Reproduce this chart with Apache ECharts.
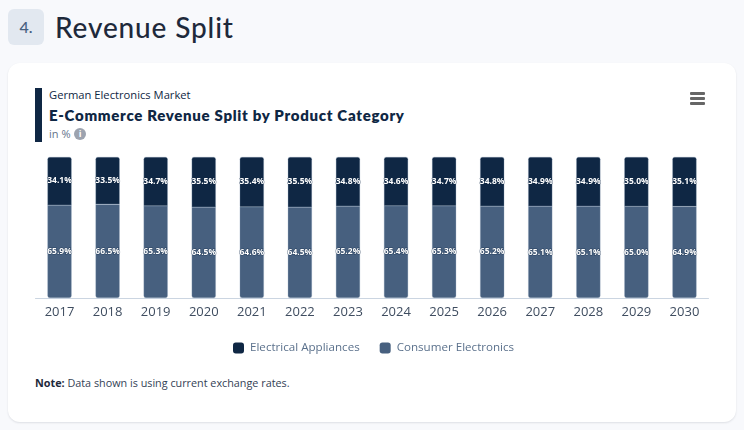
<!DOCTYPE html>
<html><head><meta charset="utf-8">
<style>
html,body{margin:0;padding:0;width:744px;height:430px;overflow:hidden;background:#f8f9fc;font-family:"Open Sans",sans-serif}
.abs{position:absolute;white-space:nowrap}
#badge{left:8px;top:9px;width:36px;height:36px;border-radius:6px;background:#e2e8f0;color:#47607f;font:500 16px/36px Lato,sans-serif;text-align:center}
#h{left:55px;top:8px;font:500 28px/38px Lato,sans-serif;color:#1e293b;letter-spacing:.85px}
#card{left:8px;top:63px;width:728px;height:359px;background:#fff;border-radius:12px;box-shadow:0 1px 2px rgba(30,41,59,.12)}
#bar{left:35px;top:88px;width:7px;height:54px;background:#0f2744}
#sup{left:49px;top:87px;font:500 11.2px/16px "Open Sans",sans-serif;color:#0f2744}
#ttl{left:49px;top:105px;font:800 15px/20px Lato,sans-serif;color:#0f2744;letter-spacing:.7px}
#unit{left:49px;top:126px;font:400 11px/16px "Open Sans",sans-serif;color:#64748b}
#info{left:74px;top:128px;width:12px;height:12px;border-radius:50%;background:#9ca3af;color:#fff;font:700 9px/12px "Open Sans",sans-serif;text-align:center}
#menu{left:690px;top:92px;width:15px;height:13px}
#menu i{display:block;height:3px;margin-bottom:2px;background:#666;border-radius:1px}
#note{left:35px;top:375px;font:400 10.8px/16px "Open Sans",sans-serif;color:#334155}
#note b{font-weight:700;color:#1e293b}
#chart{position:absolute;left:0;top:0;width:744px;height:430px}
</style></head><body>
<div class="abs" id="badge">4.</div>
<div class="abs" id="h">Revenue Split</div>
<div class="abs" id="card"></div>
<div class="abs" id="bar"></div>
<div class="abs" id="sup">German Electronics Market</div>
<div class="abs" id="ttl">E-Commerce Revenue Split by Product Category</div>
<div class="abs" id="unit">in %</div>
<div class="abs" id="info">i</div>
<div class="abs" id="menu"><i></i><i></i><i></i></div>
<div class="abs" id="note"><b>Note:</b> Data shown is using current exchange rates.</div>
<div id="chart"></div>
<script src="https://cdn.jsdelivr.net/npm/echarts@6/dist/echarts.min.js"></script>
<script>
const years = ['2017','2018','2019','2020','2021','2022','2023','2024','2025','2026','2027','2028','2029','2030'];
const electricalAppliances = [34.1,33.5,34.7,35.5,35.4,35.5,34.8,34.6,34.7,34.8,34.9,34.9,35.0,35.1];
const consumerElectronics = [65.9,66.5,65.3,64.5,64.6,64.5,65.2,65.4,65.3,65.2,65.1,65.1,65.0,64.9];
const labelStyle = {
  show:true, position:'inside', color:'#fff', fontFamily:'"Open Sans",sans-serif',
  fontSize:8.5, fontWeight:700, textBorderColor:'rgba(15,39,68,.55)', textBorderWidth:1,
  formatter:p=>p.value.toFixed(1)+'%'
};
const chart = echarts.init(document.getElementById('chart'),null,{renderer:'canvas'});
chart.setOption({
  animation:false,
  backgroundColor:'transparent',
  grid:{left:35.5,right:35.5,top:157,bottom:132,containLabel:false},
  legend:{
    data:['Electrical Appliances','Consumer Electronics'],
    top:337,left:228,itemWidth:11,itemHeight:11,itemGap:20,icon:'roundRect',
    itemStyle:{borderWidth:0},
    textStyle:{color:'#5b718c',fontSize:11.6,padding:[0,0,0,1],fontFamily:'"Open Sans",sans-serif'}
  },
  xAxis:{
    type:'category',data:years,
    axisLine:{lineStyle:{color:'#cbd5e1',width:1}},
    axisTick:{show:false},
    axisLabel:{color:'#3f4d60',fontSize:13,margin:8,fontFamily:'"Open Sans",sans-serif',interval:0}
  },
  yAxis:{type:'value',min:0,max:100,show:false,splitLine:{show:false}},
  series:[
    {name:'Consumer Electronics',type:'bar',stack:'split',barWidth:24,data:consumerElectronics,
     itemStyle:{color:'#47607f',borderColor:'#8fa3bb',borderWidth:.3,borderRadius:[0,0,2,2]},label:labelStyle},
    {name:'Electrical Appliances',type:'bar',stack:'split',barWidth:24,data:electricalAppliances,
     itemStyle:{color:'#0f2744',borderColor:'#8fa3bb',borderWidth:.3,borderRadius:[2,2,0,0]},label:labelStyle}
  ]
});
</script>
</body></html>
